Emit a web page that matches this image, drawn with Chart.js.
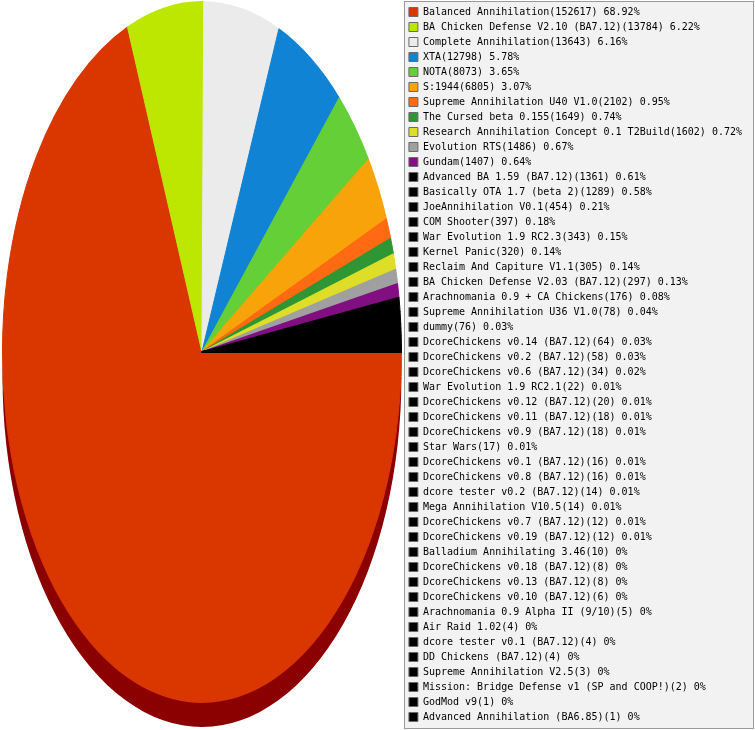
<!DOCTYPE html>
<html>
<head>
<meta charset="utf-8">
<script src="https://cdn.jsdelivr.net/npm/chart.js@4"></script>
<style>
  html, body { margin: 0; padding: 0; background: #fff; }
  #wrap { width: 755px; height: 730px; }
</style>
</head>
<body>
<div id="wrap"><canvas id="modsChart"></canvas></div>
<script>
const modNames = [
    'Balanced Annihilation', 'BA Chicken Defense V2.10 (BA7.12)', 'Complete Annihilation', 'XTA', 'NOTA', 'S:1944',
    'Supreme Annihilation U40 V1.0', 'The Cursed beta 0.155', 'Research Annihilation Concept 0.1 T2Build', 'Evolution RTS',
    'Gundam', 'Advanced BA 1.59 (BA7.12)', 'Basically OTA 1.7 (beta 2)', 'JoeAnnihilation V0.1', 'COM Shooter',
    'War Evolution 1.9 RC2.3', 'Kernel Panic', 'Reclaim And Capiture V1.1', 'BA Chicken Defense V2.03 (BA7.12)',
    'Arachnomania 0.9 + CA Chickens', 'Supreme Annihilation U36 V1.0', 'dummy', 'DcoreChickens v0.14 (BA7.12)',
    'DcoreChickens v0.2 (BA7.12)', 'DcoreChickens v0.6 (BA7.12)', 'War Evolution 1.9 RC2.1', 'DcoreChickens v0.12 (BA7.12)',
    'DcoreChickens v0.11 (BA7.12)', 'DcoreChickens v0.9 (BA7.12)', 'Star Wars', 'DcoreChickens v0.1 (BA7.12)',
    'DcoreChickens v0.8 (BA7.12)', 'dcore tester v0.2 (BA7.12)', 'Mega Annihilation V10.5', 'DcoreChickens v0.7 (BA7.12)',
    'DcoreChickens v0.19 (BA7.12)', 'Balladium Annihilating 3.46', 'DcoreChickens v0.18 (BA7.12)', 'DcoreChickens v0.13 (BA7.12)',
    'DcoreChickens v0.10 (BA7.12)', 'Arachnomania 0.9 Alpha II (9/10)', 'Air Raid 1.02', 'dcore tester v0.1 (BA7.12)',
    'DD Chickens (BA7.12)', 'Supreme Annihilation V2.5', 'Mission: Bridge Defense v1 (SP and COOP!)', 'GodMod v9',
    'Advanced Annihilation (BA6.85)'
];
const gameCounts = [
    152617, 13784, 13643, 12798, 8073, 6805, 2102, 1649, 1602, 1486,
    1407, 1361, 1289, 454, 397, 343, 320, 305, 297, 176,
    78, 76, 64, 58, 34, 22, 20, 18, 18, 17,
    16, 16, 14, 14, 12, 12, 10, 8, 8, 6,
    5, 4, 4, 4, 3, 2, 1, 1
];
const percentLabels = [
    '68.92%', '6.22%', '6.16%', '5.78%', '3.65%', '3.07%', '0.95%', '0.74%', '0.72%', '0.67%',
    '0.64%', '0.61%', '0.58%', '0.21%', '0.18%', '0.15%', '0.14%', '0.14%', '0.13%', '0.08%',
    '0.04%', '0.03%', '0.03%', '0.03%', '0.02%', '0.01%', '0.01%', '0.01%', '0.01%', '0.01%',
    '0.01%', '0.01%', '0.01%', '0.01%', '0.01%', '0.01%', '0%', '0%', '0%', '0%',
    '0%', '0%', '0%', '0%', '0%', '0%', '0%', '0%'
];
const sliceColors = [
    '#d93600', '#bde700', '#ebebeb', '#1183d4', '#64cf37', '#f8a30a',
    '#ff6a12', '#2e9632', '#dede28', '#a0a0a0', '#820f82'
];
// все остальные куски чёрные
const colors = modNames.map((_, i) => sliceColors[i] || '#000000');

const depth = 25;          // толщина "боковины" под пирогом
const sideColor = '#8b0000';

// рамка с серым фоном под легендой
const legendPanel = {
    id: 'legendPanel',
    beforeDraw(chart) {
        const lg = chart.legend;
        const ctx = chart.ctx;
        const x0 = Math.round(lg.left) + 0.5;
        const x1 = Math.round(lg.right) + 1.5;
        ctx.save();
        ctx.fillStyle = '#f2f2f2';
        ctx.strokeStyle = '#9a9a9a';
        ctx.lineWidth = 1;
        ctx.fillRect(x0, 1.5, x1 - x0, chart.height - 3);
        ctx.strokeRect(x0, 1.5, x1 - x0, chart.height - 3);
        ctx.restore();
    }
};

// вытягиваем круг в эллипс и рисуем тёмную боковину
const ellipsePie = {
    id: 'ellipsePie',
    beforeDatasetsDraw(chart) {
        const ctx = chart.ctx;
        const arcs = chart.getDatasetMeta(0).data;
        const area = chart.chartArea;
        const cx = arcs[0].x, cy = arcs[0].y, r = arcs[0].outerRadius;
        const ry = (area.height - depth - 3) / 2;
        const k = ry / r;

        ctx.save();
        ctx.translate(cx, area.top + ry);
        ctx.scale(1, k);
        ctx.translate(-cx, -cy);

        ctx.save();
        ctx.translate(0, depth / k);
        ctx.beginPath();
        arcs.forEach(a => {
            ctx.moveTo(a.x, a.y);
            ctx.arc(a.x, a.y, a.outerRadius, a.startAngle, a.endAngle);
            ctx.closePath();
        });
        ctx.fillStyle = sideColor;
        ctx.fill();
        ctx.restore();
    },
    afterDatasetsDraw(chart) {
        chart.ctx.restore();
    }
};

new Chart(document.getElementById('modsChart'), {
    type: 'pie',
    data: {
        labels: modNames,
        datasets: [{
            data: gameCounts,
            backgroundColor: colors,
            borderColor: colors,
            borderWidth: 1,
            radius: '99%',
            clip: false
        }]
    },
    options: {
        responsive: true,
        maintainAspectRatio: false,
        animation: false,
        events: [],
        rotation: 90,
        layout: { padding: { top: 2, right: 3, left: 0, bottom: 0 } },
        plugins: {
            tooltip: { enabled: false },
            legend: {
                position: 'right',
                align: 'start',
                labels: {
                    boxWidth: 9,
                    boxHeight: 9,
                    padding: 5,
                    color: '#000',
                    font: { family: "'DejaVu Sans Mono', monospace", size: 10 },
                    generateLabels: () => modNames.map((name, i) => ({
                        text: name + '(' + gameCounts[i] + ') ' + percentLabels[i],
                        fillStyle: colors[i],
                        strokeStyle: '#6a6a6a',
                        lineWidth: 1,
                        fontColor: '#000',
                        hidden: false,
                        index: i
                    }))
                }
            }
        }
    },
    plugins: [legendPanel, ellipsePie]
});
</script>
</body>
</html>
